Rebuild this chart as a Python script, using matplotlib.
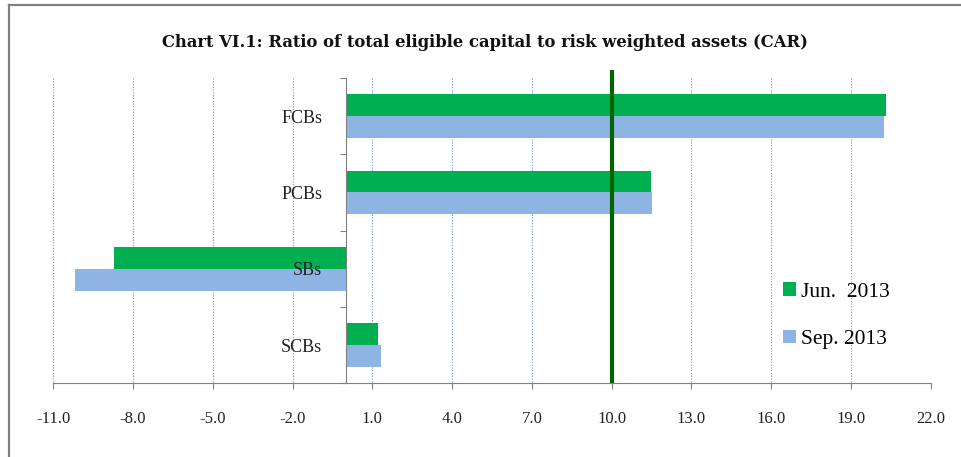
import matplotlib
matplotlib.use("Agg")
import matplotlib.pyplot as plt
from matplotlib.lines import Line2D
import numpy as np

categories = ["FCBs", "PCBs", "SBs", "SCBs"]
jun_2013 = [20.33, 11.47, -8.71, 1.22]
sep_2013 = [20.23, 11.53, -10.20, 1.31]
series_labels = ["Jun.  2013", "Sep. 2013"]
threshold = 10.0
xticks = [-11, -8, -5, -2, 1, 4, 7, 10, 13, 16, 19, 22]

serif = ["Liberation Serif", "DejaVu Serif"]

fig = plt.figure(figsize=(9.61, 4.57), dpi=100)
ax = fig.add_axes([0.0555, 0.1613, 0.913, 0.668])

# spine position first (it resets ticks)
ax.spines["left"].set_position(("data", 0))
ax.spines["left"].set_color("#808080")
ax.spines["bottom"].set_color("#808080")
ax.spines["top"].set_visible(False)
ax.spines["right"].set_visible(False)

y = np.arange(len(categories))
h = 0.286
ax.barh(y - h / 2, jun_2013, height=h, color="#00B050", label=series_labels[0], zorder=2)
ax.barh(y + h / 2, sep_2013, height=h, color="#8EB4E3", label=series_labels[1], zorder=2)

ax.set_xlim(-11, 22)
ax.set_ylim(len(categories) - 0.5, -0.5)

# dotted vertical gridlines below bars
ax.vlines(xticks, -0.5, len(categories) - 0.5, linestyles=[(0, (1, 1.5))],
          colors="#6A9AD6", linewidth=0.8, zorder=0.5)

ax.set_xticks(xticks)
ax.set_xticklabels([f"{v:.1f}" for v in xticks], family=serif, fontsize=12, color="#222222")
ax.tick_params(axis="x", length=4.3, width=0.8, color="#808080", pad=16, direction="out")

ax.set_yticks(np.arange(-0.5, len(categories), 1.0), minor=True)
ax.set_yticks(y)
ax.set_yticklabels(categories, family=serif, fontsize=13, color="#222222")
ax.tick_params(axis="y", which="major", length=0, pad=17)
ax.tick_params(axis="y", which="minor", length=4.3, width=0.8, color="#808080", direction="out")

ax.set_axisbelow(False)
ax.yaxis.set_zorder(5)
ax.xaxis.set_zorder(5)
ax.spines["left"].set_zorder(3)

ax.axvline(threshold, ymin=0.0085, ymax=1.02, color="#006400", linewidth=3, zorder=4, clip_on=False)

leg = ax.legend(loc="upper left", bbox_to_anchor=(0.795, 0.425), bbox_transform=fig.transFigure,
                frameon=False, prop={"family": serif, "size": 15.5},
                handlelength=0.6, handleheight=0.6, handletextpad=0.2, labelspacing=1.3)

fig.text(0.505, 0.906, "Chart VI.1: Ratio of total eligible capital to risk weighted assets (CAR)",
         ha="center", va="center", family=["DejaVu Serif"], fontsize=11.8, fontweight="bold",
         color="#111111")

fig.add_artist(Line2D([9 / 961, 1.0], [1 - 5 / 457, 1 - 5 / 457], transform=fig.transFigure,
                      color="#808080", linewidth=1.6))
fig.add_artist(Line2D([9 / 961, 9 / 961], [0.0, 1 - 5 / 457], transform=fig.transFigure,
                      color="#808080", linewidth=1.6))

fig.savefig("out.png", dpi=100)
